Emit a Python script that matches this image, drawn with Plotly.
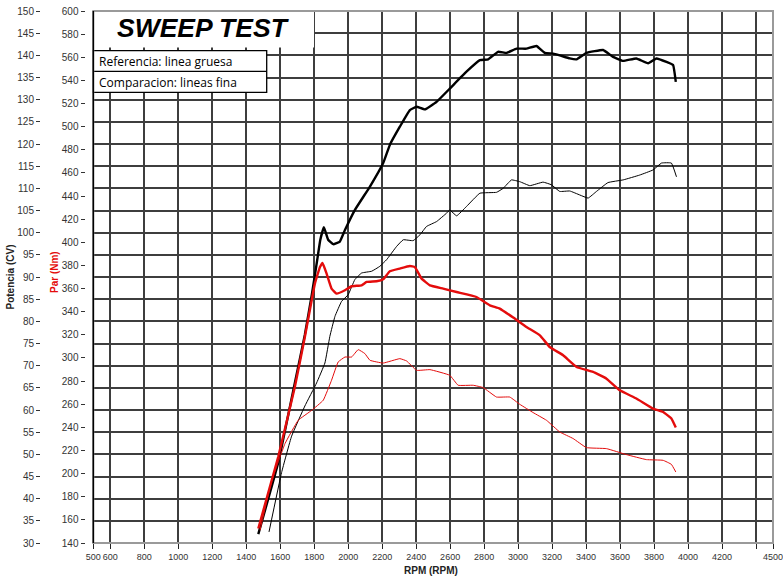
import plotly.graph_objects as go

W, H = 783, 581

# ---------------- data ----------------
rpm_ref_pow = [1471, 1588, 1686, 1745, 1786, 1816, 1836, 1857, 1882, 1912, 1951, 1981, 2039, 2128,
               2206, 2245, 2304, 2363, 2402, 2451, 2520, 2598, 2696, 2775, 2824, 2882, 2932, 2991,
               3049, 3108, 3157, 3206, 3245, 3304, 3344, 3402, 3500, 3559, 3618, 3696, 3765, 3814,
               3873, 3912, 3928]
cv_ref = [32.0, 48.1, 66.1, 77.0, 86.0, 93.4, 98.4, 101.25, 98.4, 97.4, 98.0, 100.6, 105.1, 110.4,
          115.7, 119.8, 123.9, 127.65, 128.4, 127.8, 129.5, 132.5, 136.3, 138.9, 139.1, 140.8,
          140.55, 141.5, 141.5, 142.1, 140.55, 140.4, 140.0, 139.3, 139.1, 140.55, 141.2, 139.65,
          138.75, 139.3, 138.2, 139.3, 138.5, 137.8, 134.0]

rpm_cmp_pow = [1534, 1608, 1667, 1745, 1814, 1863, 1892, 1922, 1961, 2000, 2039, 2079, 2138, 2186,
               2226, 2285, 2324, 2382, 2422, 2461, 2520, 2579, 2598, 2638, 2696, 2775, 2873, 2912,
               2961, 3010, 3069, 3147, 3196, 3245, 3304, 3363, 3412, 3461, 3529, 3618, 3716, 3794,
               3844, 3902, 3932]
cv_cmp = [32.5, 45.9, 54.1, 60.9, 66.1, 70.6, 76.6, 81.1, 84.5, 86.0, 89.4, 90.9, 91.3, 92.4,
          93.9, 96.9, 98.4, 98.2, 99.5, 101.4, 102.5, 104.4, 105.1, 103.8, 105.9, 108.9, 109.1,
          110.0, 111.9, 111.5, 110.6, 111.4, 110.8, 109.3, 109.4, 108.5, 107.8, 109.3, 111.3,
          111.9, 113.0, 114.15, 115.7, 115.7, 112.6]

rpm_ref_tq = [1471, 1588, 1686, 1745, 1804, 1834, 1849, 1873, 1902, 1932, 1981, 2020, 2079, 2108,
              2167, 2206, 2245, 2304, 2363, 2392, 2432, 2481, 2559, 2638, 2755, 2834, 2892, 2971,
              3049, 3128, 3186, 3265, 3344, 3441, 3520, 3598, 3696, 3794, 3853, 3902, 3928]
nm_ref = [152.5, 214.4, 274.9, 318.1, 364.3, 378.6, 382.1, 372.9, 360.0, 355.6, 358.5, 362.0,
          362.8, 365.7, 366.3, 368.0, 374.9, 377.3, 379.5, 378.6, 368.6, 362.8, 360.0, 357.0,
          352.7, 345.5, 342.7, 334.9, 326.8, 319.6, 309.5, 302.3, 292.2, 287.9, 282.1, 272.0,
          264.9, 256.2, 253.3, 247.6, 239.8]

rpm_cmp_tq = [1481, 1551, 1628, 1706, 1785, 1853, 1902, 1941, 1981, 2020, 2059, 2098, 2128, 2206,
              2304, 2344, 2402, 2481, 2598, 2647, 2735, 2794, 2873, 2951, 3010, 3088, 3167, 3245,
              3324, 3402, 3520, 3638, 3755, 3853, 3902, 3928]
nm_cmp = [151.0, 194.2, 225.9, 246.1, 254.7, 263.4, 280.7, 296.5, 300.8, 300.8, 307.2, 303.8,
          298.0, 295.6, 299.4, 297.4, 289.3, 289.9, 285.0, 276.4, 276.4, 274.4, 266.2, 266.2,
          259.9, 252.8, 246.1, 236.0, 230.3, 222.5, 221.6, 216.4, 212.1, 211.5, 208.0, 201.4]

x_tickvals = [500, 600, 800, 1000, 1200, 1400, 1600, 1800, 2000, 2200, 2400, 2600, 2800, 3000,
              3200, 3400, 3600, 3800, 4000, 4200, 4400, 4500]
x_ticktext = ["500", "600", "800", "1000", "1200", "1400", "1600", "1800", "2000", "2200", "2400",
              "2600", "2800", "3000", "3200", "3400", "3600", "3800", "4000", "4200", "", "4500"]
cv_ticks = list(range(30, 151, 5))
nm_ticks = list(range(140, 601, 20))

title_text = "SWEEP TEST"
legend_lines = ["Referencia: linea gruesa", "Comparacion: lineas fina"]

# ---------------- layout helpers ----------------
TOP, BOT = 11, 543
def px(x):
    return x / W
def py(y):
    return (BOT - y) / (BOT - TOP)

GRID = "#3e3e3e"
TICKFONT = dict(family="Liberation Sans, Arial, sans-serif", size=10, color="#333")
XTICKFONT = dict(family="Liberation Sans, Arial, sans-serif", size=9, color="#333")
RED = "rgb(228,12,12)"
SM = 0.3

fig = go.Figure()
fig.add_trace(go.Scatter(x=rpm_cmp_pow, y=cv_cmp, mode="lines", yaxis="y",
                         line=dict(color="black", width=1.0, shape="spline", smoothing=SM)))
fig.add_trace(go.Scatter(x=rpm_cmp_tq, y=nm_cmp, mode="lines", yaxis="y2",
                         line=dict(color=RED, width=1.0, shape="spline", smoothing=SM)))
fig.add_trace(go.Scatter(x=rpm_ref_pow, y=cv_ref, mode="lines", yaxis="y",
                         line=dict(color="black", width=2.4, shape="spline", smoothing=SM)))
fig.add_trace(go.Scatter(x=rpm_ref_tq, y=nm_ref, mode="lines", yaxis="y2",
                         line=dict(color=RED, width=2.4, shape="spline", smoothing=SM)))

shapes = [
    # title box (covers grid)
    dict(type="rect", xref="paper", yref="paper", x0=px(93.3), x1=px(314), y0=py(47.5), y1=py(10),
         fillcolor="white", line=dict(width=0), layer="above"),
    # legend box
    dict(type="rect", xref="paper", yref="paper", x0=px(93.3), x1=px(266.7), y0=py(92.3), y1=py(50.7),
         fillcolor="white", line=dict(color="black", width=1.3), layer="above"),
    dict(type="line", xref="paper", yref="paper", x0=px(93.3), x1=px(266.7), y0=py(71.3), y1=py(71.3),
         line=dict(color="black", width=1.3), layer="above"),
    # plot frame
    dict(type="rect", xref="x domain", yref="y domain", x0=0, x1=1, y0=0, y1=1,
         line=dict(color="#9a9a9a", width=2), layer="above"),
    dict(type="line", xref="x domain", yref="y domain", x0=0, x1=0, y0=0, y1=1,
         line=dict(color="black", width=1.5), layer="above"),
]

annotations = [
    dict(text=title_text, x=px(203.4), y=py(28), xref="paper", yref="paper", showarrow=False,
         xanchor="center", yanchor="middle",
         font=dict(family="Liberation Sans, Arial, sans-serif", size=26.5, color="black",
                   weight="bold", style="italic")),
    dict(text=legend_lines[0], x=px(96.5), y=py(61.3), xref="paper", yref="paper", showarrow=False,
         xanchor="left", yanchor="middle",
         font=dict(family="Open Sans, sans-serif", size=12, color="black")),
    dict(text=legend_lines[1], x=px(96.5), y=py(82.0), xref="paper", yref="paper", showarrow=False,
         xanchor="left", yanchor="middle",
         font=dict(family="Open Sans, sans-serif", size=12, color="black")),
    dict(text="<b>Potencia (CV)</b>", x=px(9.5), y=py(277), xref="paper", yref="paper",
         showarrow=False, textangle=-90, xanchor="center", yanchor="middle",
         font=dict(family="Liberation Sans, Arial, sans-serif", size=10, color="#222")),
    dict(text="<b>Par (Nm)</b>", x=px(54), y=py(272), xref="paper", yref="paper",
         showarrow=False, textangle=-90, xanchor="center", yanchor="middle",
         font=dict(family="Liberation Sans, Arial, sans-serif", size=10, color=RED)),
    dict(text="<b>RPM (RPM)</b>", x=px(431), y=py(570), xref="paper", yref="paper",
         showarrow=False, xanchor="center", yanchor="middle",
         font=dict(family="Liberation Sans, Arial, sans-serif", size=10, color="#222")),
]

fig.update_layout(
    width=W, height=H,
    margin=dict(l=0, r=0, t=TOP, b=H - BOT, pad=0, autoexpand=False),
    paper_bgcolor="white", plot_bgcolor="white",
    showlegend=False,
    xaxis=dict(domain=[px(93.3), px(773)], range=[500, 4500], tickvals=x_tickvals,
               ticktext=x_ticktext, ticks="outside", ticklen=5, tickwidth=1.2, tickcolor="#222",
               tickangle=0, automargin=False, ticklabeloverflow="allow",
               showgrid=True, gridcolor=GRID, gridwidth=1.5, zeroline=False, showline=False,
               tickfont=XTICKFONT),
    yaxis=dict(range=[30, 150], tickvals=cv_ticks, anchor="free", position=px(40),
               ticks="outside", ticklen=4, tickwidth=1, tickcolor="#333", automargin=False,
               showgrid=True, gridcolor=GRID, gridwidth=1.5, zeroline=False, showline=False,
               tickfont=TICKFONT),
    yaxis2=dict(range=[140, 600], tickvals=nm_ticks, overlaying="y", anchor="free",
                position=px(84.5), side="left", ticks="outside", ticklen=4, tickwidth=1,
                tickcolor="#333", showgrid=False, zeroline=False, showline=False,
                automargin=False, tickfont=TICKFONT),
    shapes=shapes,
    annotations=annotations,
)

fig.write_html("out.html", config={"displayModeBar": False},
               post_script="document.body.style.margin='0';document.body.style.overflow='hidden';")
